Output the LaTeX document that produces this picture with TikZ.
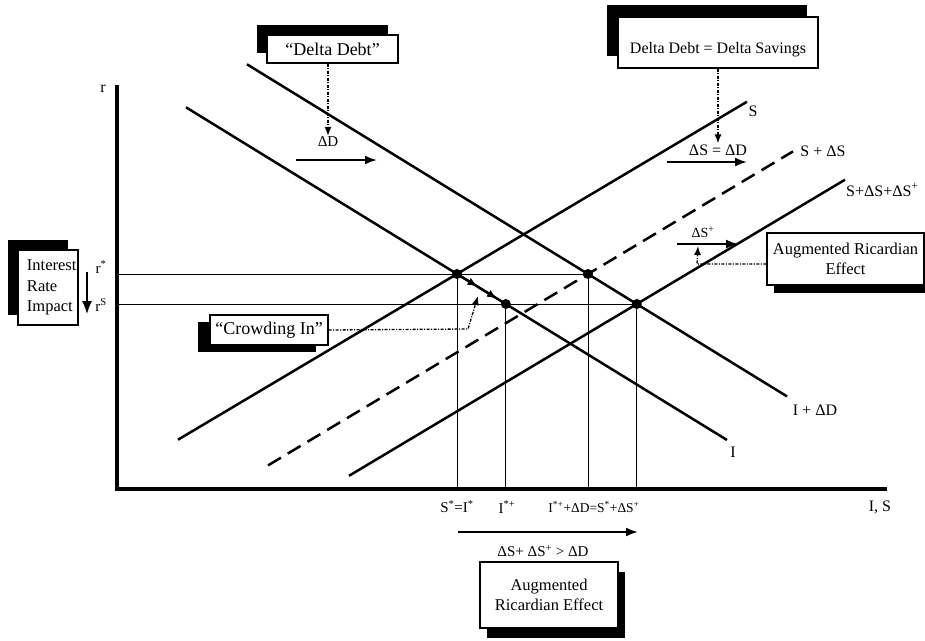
\documentclass[tikz,border=0pt]{standalone}
\usepackage{fontspec}
\setmainfont{Liberation Serif}
\usetikzlibrary{arrows.meta,calc,shadows}
\begin{document}
\begin{tikzpicture}[x=1pt,y=-1pt,
  every node/.style={font=\fontsize{16}{19}\selectfont, inner sep=1pt},
  curve/.style={line width=2.5pt},
  dashcurve/.style={line width=2.5pt, dash pattern=on 15pt off 8pt},
  guide/.style={line width=1pt},
  axis/.style={line width=3.4pt},
  dot/.style={circle, fill=black, inner sep=0pt, minimum size=10pt},
  shiftarrow/.style={line width=2pt, -{Latex[length=12pt,width=9pt]}},
  pointer/.style={line width=1.3pt, dash pattern=on 3pt off 1.5pt on 1pt off 1.5pt, -{Latex[length=9pt,width=7pt]}},
  box/.style={draw, line width=1.4pt, fill=white, inner sep=0pt},
  shadowUL/.style={drop shadow={opacity=1, fill=black, shadow xshift=-10pt, shadow yshift=10pt}},
  bigfont/.style={font=\fontsize{18}{21}\selectfont},
  smallfont/.style={font=\fontsize{14}{17}\selectfont}
]
\useasboundingbox (0,0) rectangle (925,640);

% key points
\coordinate (E1) at (457,274);
\coordinate (E2) at (588,274);
\coordinate (E3) at (636.8,304);
\coordinate (E4) at (505.8,304);
\coordinate (O) at (117,489);
\coordinate (Ytop) at (117,85);
\coordinate (Xend) at (887,489);

% curve end points
\coordinate (Ia) at (186,107.3);   \coordinate (Ib) at (727,440);
\coordinate (IDa) at (247,64.3);   \coordinate (IDb) at (787,396.4);
\coordinate (Sa) at (178,439.7);   \coordinate (Sb) at (747,101.7);
\coordinate (SDa) at (268,465.4);  \coordinate (SDb) at (793,151.4);
\coordinate (SDDa) at (349,475.8); \coordinate (SDDb) at (845,179.7);

% guide lines
\draw[guide] (O |- E1) -- (E2);
\draw[guide] (O |- E3) -- (E3);
\draw[guide] (E1) -- (E1 |- O);
\draw[guide] (E4) -- (E4 |- O);
\draw[guide] (E2) -- (E2 |- O);
\draw[guide] (E3) -- (E3 |- O);

% axes
\draw[axis] (Ytop) -- (O) -- (Xend);

% curves
\draw[curve] (Ia) -- (Ib);
\draw[curve] (IDa) -- (IDb);
\draw[curve] (Sa) -- (Sb);
\draw[dashcurve] (SDa) -- (SDb);
\draw[curve] (SDDa) -- (SDDb);

% crowding-in movement along I
\draw[line width=2.2pt, -{Latex[length=10pt,width=8pt]}] (E1) -- ($(E1)!0.42!(E4)$);
\draw[line width=2.2pt, -{Latex[length=10pt,width=8pt]}] ($(E1)!0.42!(E4)$) -- ($(E1)!0.82!(E4)$);

% intersection dots
\node[dot] (d1) at (E1) {};
\node[dot] (d2) at (E2) {};
\node[dot] (d3) at (E3) {};
\node[dot] (d4) at (E4) {};

% curve labels
\node (labr) at (103,89) {r};
\node (labS) at (753,111) {S};
\node (labSD) at (823,151) {S + ΔS};
\node[anchor=west] (labSDD) at (845,190) {S+ΔS+ΔS\textsuperscript{+}};
\node (labID) at (815,410) {I + ΔD};
\node (labI) at (733,452) {I};
\node (labIS) at (880,507) {I, S};

% axis labels
\node[font=\fontsize{15}{18}\selectfont] (lab1) at (457,507) {S\textsuperscript{*}=I\textsuperscript{*}};
\node[font=\fontsize{15}{18}\selectfont] (lab2) at (507,507) {I\textsuperscript{*+}};
\node[font=\fontsize{13.5}{16}\selectfont] (lab3) at (594,507) {I\textsuperscript{*+}+ΔD=S\textsuperscript{*}+ΔS\textsuperscript{+}};
\coordinate (ba) at (458,532);
\coordinate (bb) at (638,532);
\draw[shiftarrow] (ba) -- (bb);
\node[font=\fontsize{15}{18}\selectfont] (labineq) at (543,551) {ΔS+ ΔS\textsuperscript{+} > ΔD};

% Delta Debt box
\node[box, shadowUL, bigfont, minimum width=131pt, minimum height=28pt] (DD) at (332.5,49) {“Delta Debt”};
\node[font=\fontsize{15}{18}\selectfont] (labdD) at (328,142) {ΔD};
\draw[pointer] (DD.south -| labdD) -- (labdD.north);
\coordinate (dDa) at (296,160);
\coordinate (dDb) at (377,160);
\draw[shiftarrow] (dDa) -- (dDb);

% Delta Debt = Delta Savings box
\node[box, drop shadow={opacity=1, fill=black, shadow xshift=-11pt, shadow yshift=12pt},
      minimum width=200pt, minimum height=51pt] (DDS) at (718,42.5)
      {\raisebox{-7pt}[11pt][4pt]{Delta Debt = Delta Savings}};
\node (labSeq) at (718,150) {ΔS = ΔD};
\draw[pointer] (DDS.south) -- (labSeq.north);
\coordinate (sEa) at (667,162);
\coordinate (sEb) at (747,162);
\draw[shiftarrow] (sEa) -- (sEb);

% Augmented Ricardian Effect (right)
\node[smallfont] (labSP) at (703,232) {ΔS\textsuperscript{+}};
\coordinate (sPa) at (677,244);
\coordinate (sPb) at (738,244);
\draw[shiftarrow] (sPa) -- (sPb);
\node[box, drop shadow={opacity=1, fill=black, shadow xshift=7pt, shadow yshift=-8pt},
      minimum width=157pt, minimum height=52pt, align=center,
      font=\fontsize{16.5}{20}\selectfont] (ARE1) at (845.5,259) {Augmented Ricardian\\Effect};
\coordinate (k1) at (697,264);
\coordinate (k2) at (698,246);
\draw[pointer] (ARE1.west |- k1) -- (k1) -- (k2);

% Interest Rate Impact box
\node[box, shadowUL, minimum width=60pt, minimum height=75pt, text width=42pt, align=left,
      font=\fontsize{16.5}{20.5}\selectfont] (IRI) at (48,287.5) {Interest\\Rate\\Impact};
\coordinate (ia) at (87,272);
\coordinate (ib) at (87,314);
\draw[line width=1.3pt, -{Latex[length=13pt,width=10pt]}] (ia) -- (ib);
\node[font=\fontsize{15}{18}\selectfont] (rstar) at (101,267) {r\textsuperscript{*}};
\node[font=\fontsize{15}{18}\selectfont] (rs) at (101,305) {r\textsuperscript{S}};

% Crowding In box
\node[box, bigfont, drop shadow={opacity=1, fill=black, shadow xshift=-12pt, shadow yshift=-7pt},
      minimum width=118pt, minimum height=30pt] (CI) at (269,330) {“Crowding In”};
\coordinate (c1) at (468,329);
\coordinate (c2) at (478,296);
\draw[pointer] (CI.east) -- (c1) -- (c2);

% Augmented Ricardian Effect (bottom)
\node[box, drop shadow={opacity=1, fill=black, shadow xshift=7pt, shadow yshift=-10pt},
      minimum width=138pt, minimum height=66pt, align=center,
      font=\fontsize{16.5}{20}\selectfont] (ARE2) at (549,595) {Augmented\\Ricardian Effect};
\end{tikzpicture}
\end{document}
